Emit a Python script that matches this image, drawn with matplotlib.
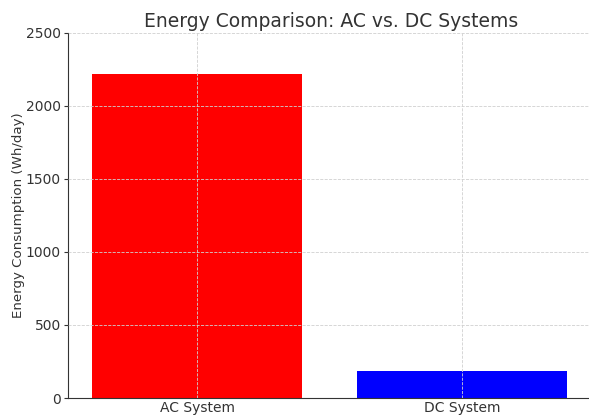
import matplotlib
matplotlib.use("Agg")
import matplotlib.pyplot as plt

categories = ["AC System", "DC System"]
values = [2220, 182]
colors = ["red", "blue"]

fig = plt.figure(figsize=(5.89, 4.17), dpi=100)
ax = fig.add_axes([68/589, 1-398/417, 526.5/589, (398-33)/417])
ax.bar(categories, values, color=colors, width=0.795, zorder=2)
ax.set_xlim(-0.487, 1.5)
ax.set_ylim(0, 2500)
ax.set_yticks([0, 500, 1000, 1500, 2000, 2500])
ax.grid(True, linestyle="--", color="#d0d0d0", linewidth=0.6, zorder=0)
ax.set_axisbelow(False)
for s in ["top", "right"]:
    ax.spines[s].set_visible(False)
for s in ["left", "bottom"]:
    ax.spines[s].set_color("#333333")
ax.tick_params(colors="#333333", labelsize=10)
ax.tick_params(axis="x", length=0, pad=2)
ax.tick_params(axis="y", length=3, pad=2)
ax.set_ylabel("Energy Consumption (Wh/day)", fontsize=9.6, color="#333333", labelpad=1)
ax.set_title("Energy Comparison: AC vs. DC Systems", fontsize=13.5, color="#333333", pad=4)
fig.savefig("out.png", dpi=100)
